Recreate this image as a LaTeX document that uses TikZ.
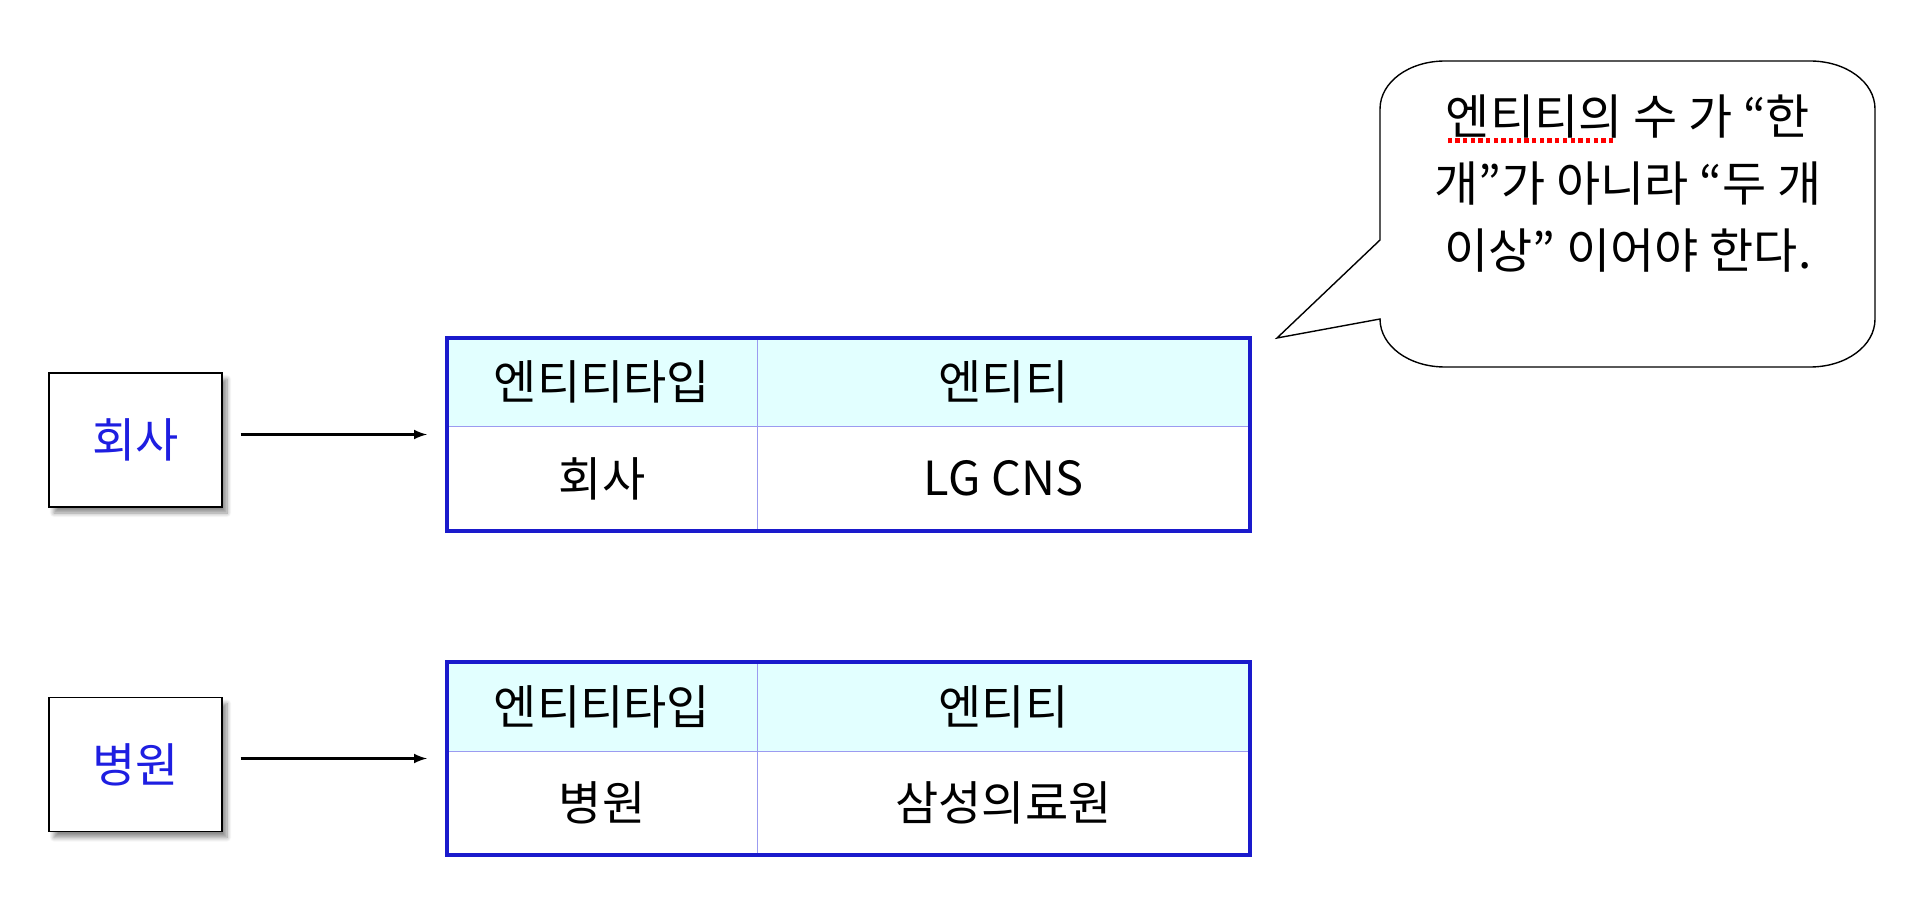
\documentclass[tikz,border=0pt]{standalone}
\usepackage{fontspec}
\setmainfont{Noto Sans CJK KR}
\usetikzlibrary{positioning}
\usetikzlibrary{calc}
\usetikzlibrary{shadows.blur}

\definecolor{framecol}{RGB}{26,26,204}
\definecolor{gridcol}{RGB}{155,155,240}
\definecolor{headcol}{RGB}{226,255,255}
\definecolor{labelcol}{RGB}{30,30,225}

\newsavebox\spellbox
\newcommand\spellmark[1]{\sbox\spellbox{#1}\rlap{\usebox\spellbox}%
    \textcolor{red}{\leaders\hbox to 0.16em{\hss\rule[-0.32ex]{0.09em}{0.1em}\hss}\hskip\wd\spellbox}}

\tikzset{
    entbox/.style={draw, rectangle, fill=white, line width=0.6pt, minimum width=86.5pt, minimum height=67pt, text=labelcol,
        blur shadow={shadow xshift=2.5pt, shadow yshift=-3pt, shadow blur steps=8, shadow opacity=45}},
    cell/.style={draw=gridcol, line width=0.5pt, rectangle, inner sep=0pt},
    tframe/.style={draw=framecol, line width=2.1pt, rectangle, inner sep=0pt, minimum width=401.5pt},
    arr/.style={-latex, line width=1.2pt, shorten <=9pt, shorten >=9pt}
}

\begin{document}
\begin{tikzpicture}[x=0.5pt, y=-0.5pt, font=\fontsize{23.5pt}{28pt}\selectfont]
    \useasboundingbox (0,0) rectangle (1920,903);

    % entity types on the left
    \node (company) [entbox] at (135.5, 440) {회사};
    \node (hospital) [entbox] at (135.5, 764.5) {병원};

    % first table
    \node (tAh1) [cell, fill=headcol, minimum width=155pt, minimum height=44pt] at (602, 382) {엔티티타입};
    \node (tAh2) [cell, fill=headcol, minimum width=246.5pt, minimum height=44pt] at (1003.5, 382) {엔티티};
    \node (tAc1) [cell, minimum width=155pt, minimum height=52.5pt] at (602, 478.5) {회사};
    \node (tAc2) [cell, minimum width=246.5pt, minimum height=52.5pt] at (1003.5, 478.5) {LG CNS};
    \node (tabA) [tframe, minimum height=96.5pt] at (848.5, 434.5) {};
    \draw[draw=framecol, line width=0.5pt] ($(tabA.north west)+(4,4)$) rectangle ($(tabA.south east)+(-4,-4)$);

    % second table
    \node (tBh1) [cell, fill=headcol, minimum width=155pt, minimum height=44.5pt] at (602, 706.5) {엔티티타입};
    \node (tBh2) [cell, fill=headcol, minimum width=246.5pt, minimum height=44.5pt] at (1003.5, 706.5) {엔티티};
    \node (tBc1) [cell, minimum width=155pt, minimum height=52pt] at (602, 803) {병원};
    \node (tBc2) [cell, minimum width=246.5pt, minimum height=52pt] at (1003.5, 803) {삼성의료원};
    \node (tabB) [tframe, minimum height=96.5pt] at (848.5, 758.5) {};
    \draw[draw=framecol, line width=0.5pt] ($(tabB.north west)+(4,4)$) rectangle ($(tabB.south east)+(-4,-4)$);

    \draw[arr] (company.east |- tabA.west) -- (tabA.west);
    \draw[arr] (hospital.east |- tabB.west) -- (tabB.west);

    % speech bubble pointing at the first table
    \coordinate (tip) at (1277, 338);
    \draw[line width=0.7pt, fill=white] (1380, 240) -- (1380, 109) .. controls (1380, 82) and (1409, 61) .. (1445, 61)
        -- (1810, 61) .. controls (1846, 61) and (1875, 82) .. (1875, 109)
        -- (1875, 319) .. controls (1875, 346) and (1846, 367) .. (1810, 367)
        -- (1445, 367) .. controls (1409, 367) and (1380, 346) .. (1380, 319)
        -- (tip) -- cycle;
    \node (note) [align=center, font=\fontsize{24pt}{33.5pt}\selectfont] at (1628, 184)
        {\spellmark{엔티티의} 수 가 “한\\개”가 아니라 “두 개\\이상” 이어야 한다.};

\end{tikzpicture}
\end{document}
